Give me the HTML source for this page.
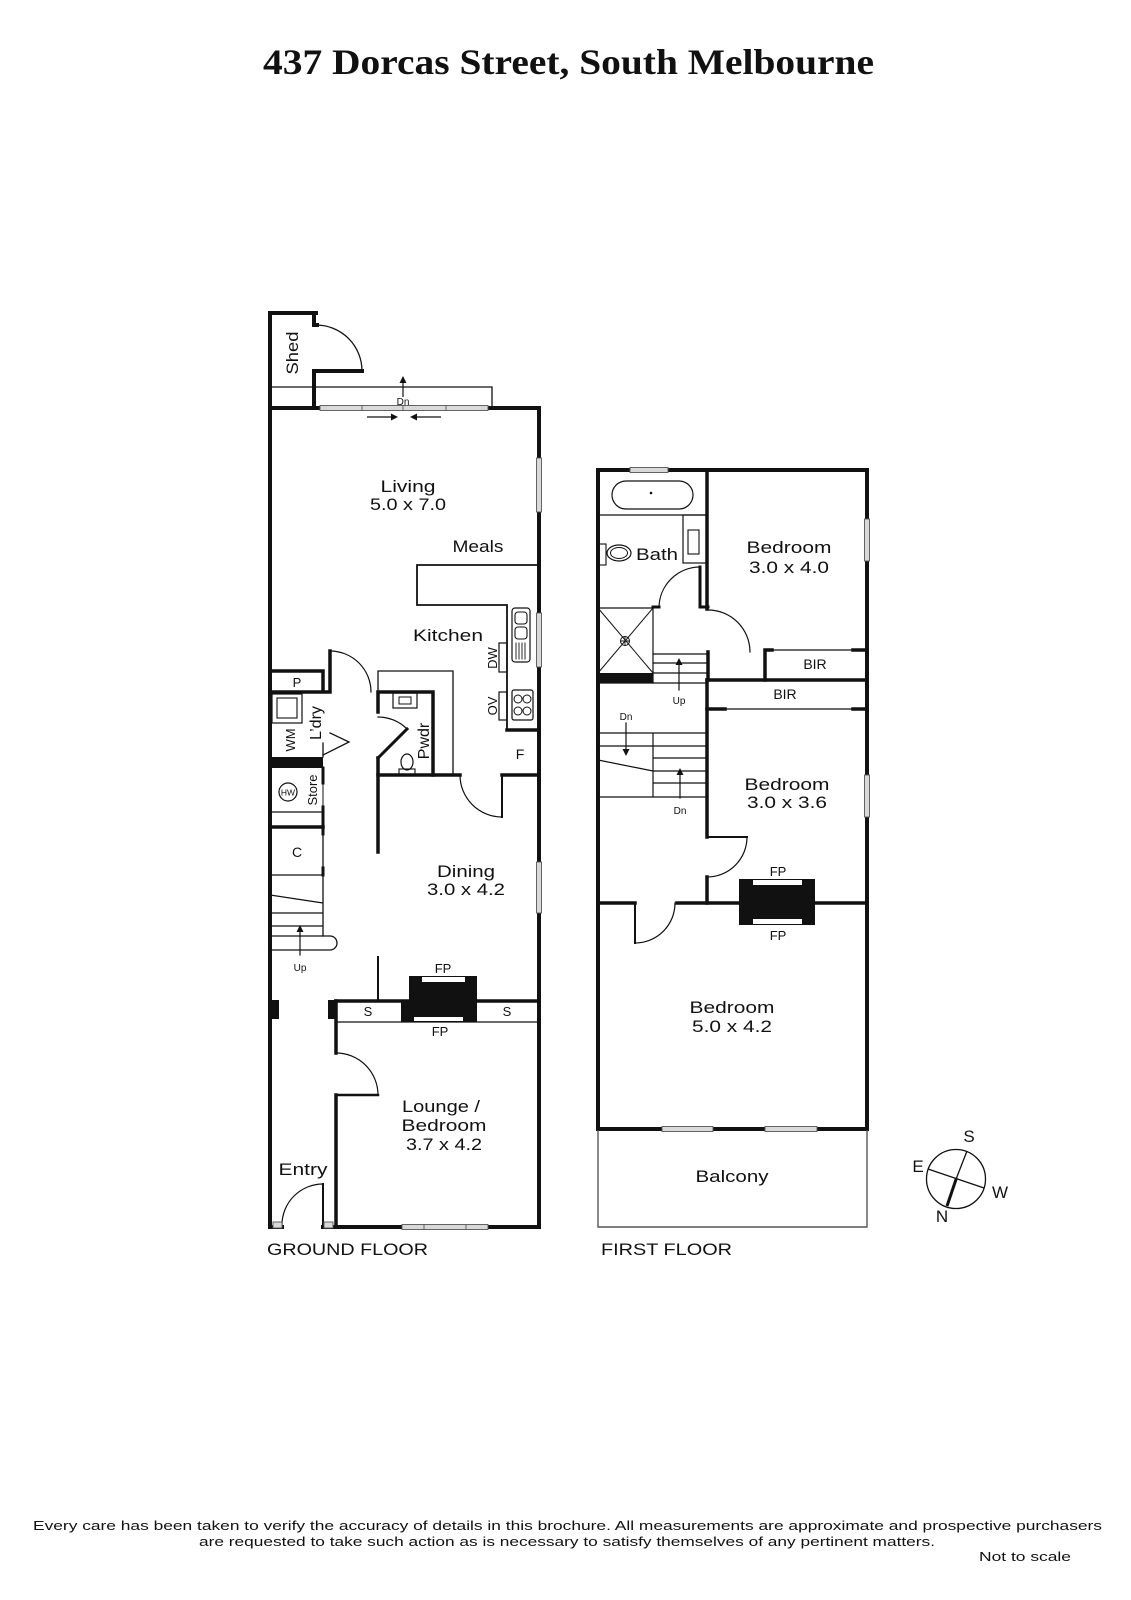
<!DOCTYPE html>
<html>
<head>
<meta charset="utf-8">
<style>
  html,body{margin:0;padding:0;background:#fff;}
  svg{display:block;}
  text{font-family:"Liberation Sans",sans-serif;fill:#111;}
  .t{font-size:17px;}
  .s{font-size:13px;}
  .xs{font-size:10px;}
</style>
</head>
<body>
<svg width="1131" height="1600" viewBox="0 0 1131 1600" xmlns="http://www.w3.org/2000/svg">
<rect width="1131" height="1600" fill="#fff"/>

<!-- Title -->
<text x="263" y="74" style="font-family:'Liberation Serif',serif;font-weight:bold;font-size:36px" textLength="611" lengthAdjust="spacingAndGlyphs">437 Dorcas Street, South Melbourne</text>

<!-- ================= GROUND FLOOR ================= -->
<g fill="none" stroke="#111" stroke-linecap="square">
  <!-- shed -->
  <path d="M270,313 H316 M314,313 V325 H317" stroke-width="4"/>
  <path d="M314,371 H362 M314,371 V408" stroke-width="4"/>
  <path d="M316,325 A46,46 0 0,1 362,371" stroke-width="1.3"/>
  <path d="M270,387 H492 V408 M314,387 V408" stroke-width="1.3"/>
  <!-- outer walls -->
  <path d="M270,313 V1227" stroke-width="4"/>
  <path d="M270,408 H539 V1227" stroke-width="4"/>
  <path d="M270,1227 H282 M323,1227 H539" stroke-width="4"/>

  <!-- meals counter / kitchen bench -->
  <path d="M539,565 H417 V605 H507 V730" stroke-width="1.8"/>
  <path d="M507,730 H539" stroke-width="3.5"/>
  <!-- sink -->
  <rect x="512" y="608" width="18" height="54" rx="3" stroke-width="1.2"/>
  <rect x="515" y="612" width="12" height="12" rx="3" stroke-width="1.1"/>
  <rect x="515" y="627" width="12" height="12" rx="3" stroke-width="1.1"/>
  <path d="M516,643 V659 M519,643 V659 M522,643 V659 M525,643 V659" stroke-width="0.9"/>
  <!-- DW / OV -->
  <rect x="499" y="643" width="8" height="29" stroke-width="1.2"/>
  <rect x="499" y="692" width="8" height="28" stroke-width="1.2"/>
  <!-- cooktop -->
  <rect x="512" y="690" width="21" height="30" rx="2" stroke-width="1.2"/>
  <circle cx="518" cy="699" r="4" stroke-width="1"/>
  <circle cx="527" cy="699" r="4" stroke-width="1"/>
  <circle cx="518" cy="711" r="4" stroke-width="1"/>
  <circle cx="527" cy="711" r="4" stroke-width="1"/>

  <!-- fridge / dining top -->
  <path d="M502,775 H539" stroke-width="3.5"/>
  <path d="M502,775 V817" stroke-width="2"/>
  <path d="M502,817 A42,42 0 0,1 460,775" stroke-width="1.2"/>
  <path d="M378,775 H460" stroke-width="3.5"/>

  <!-- powder room -->
  <path d="M378,692 V671 H453 V775" stroke-width="1.3"/>
  <path d="M378,692 H433 V775 M378,692 V712" stroke-width="3.5"/>
  <path d="M378,758 L407,729" stroke-width="3"/>
  <path d="M378,717 A41,41 0 0,1 407,729" stroke-width="1.2"/>
  <path d="M378,758 V852" stroke-width="3.5"/>
  <ellipse cx="407" cy="762" rx="6" ry="8" stroke-width="1.2"/>
  <rect x="399" y="769" width="16" height="6" stroke-width="1.1"/>
  <rect x="393" y="693" width="24" height="15" stroke-width="1.2"/>
  <rect x="399" y="697" width="12" height="7" stroke-width="1"/>

  <!-- laundry / P -->
  <path d="M270,671 H323 V692 M270,692 H330 V651" stroke-width="3.5"/>
  <path d="M330,651 A41,41 0 0,1 371,692" stroke-width="1.2"/>
  <rect x="272" y="694" width="30" height="29" stroke-width="1.2"/>
  <rect x="277" y="698" width="20" height="20" stroke-width="1.1"/>
  <path d="M330,733 L349,742 L323,755" stroke-width="1.3"/>
  <path d="M323,743 V757" stroke-width="1.3"/>
  <!-- store -->
  <circle cx="288" cy="792" r="9" stroke-width="1.2"/>
  <path d="M323,768 V783 M323,807 V827" stroke-width="3"/>
  <path d="M323,783 V807" stroke-width="1"/>
  <path d="M270,812 H323" stroke-width="1.2"/>
  <path d="M270,827 H323" stroke-width="3.5"/>
  <!-- C -->
  <path d="M323,827 V875" stroke-width="1.3"/>
  <path d="M323,827 V834 M323,868 V875" stroke-width="3"/>
  <!-- stairs -->
  <path d="M270,875 H323 M270,895 L323,903 M270,913 H323 M270,926 H323 M323,875 V936" stroke-width="1.3"/>
  <path d="M270,936 H330 A7,7 0 0,1 330,950 H270" stroke-width="1.3"/>
  <path d="M300,955 V929" stroke-width="1.2"/>

  <!-- dining wall stub -->
  <path d="M378,957 V1001" stroke-width="2"/>
  <!-- lounge top -->
  <path d="M336,1001 H539" stroke-width="3.5"/>
  <path d="M336,1022 H539" stroke-width="1.3"/>
  <path d="M336,1001 V1053" stroke-width="3.5"/>
  <path d="M336,1053 A42,42 0 0,1 378,1095" stroke-width="1.2"/>
  <path d="M336,1095 H378" stroke-width="2.5"/>
  <path d="M336,1095 V1227" stroke-width="3.5"/>
  <!-- entry door -->
  <path d="M323,1184 V1225" stroke-width="2"/>
  <path d="M282,1225 A41,41 0 0,1 323,1184" stroke-width="1.2"/>
</g>
<!-- filled items ground -->
<g fill="#111">
  <rect x="270" y="757" width="53" height="11"/>
  <rect x="270" y="1000" width="9" height="19"/>
  <rect x="328" y="1000" width="8" height="19"/>
  <path d="M409,976 H477 V1022 H401 V1001 H409 Z"/>
  <path d="M300,925 L296.5,932 H303.5 Z"/>
  <path d="M403,376 L399.5,383 H406.5 Z"/>
  <path d="M398,417 L391,413.5 V420.5 Z"/>
  <path d="M410,417 L417,413.5 V420.5 Z"/>
</g>
<g fill="#fff">
  <rect x="422" y="977" width="43" height="5"/>
  <rect x="414" y="1017" width="49" height="4"/>
</g>
<g stroke="#111" stroke-width="1.2">
  <path d="M403,397 V380"/>
  <path d="M367,417 H395 M441,417 H413"/>
</g>
<!-- windows ground -->
<g fill="#d9d9d9" stroke="#555" stroke-width="0.9">
  <rect x="320" y="405.5" width="168" height="5"/>
  <path d="M362,405.5 V410.5 M446,405.5 V410.5 M403,405.5 V410.5" fill="none"/>
  <rect x="536.5" y="458" width="5" height="54"/>
  <rect x="536.5" y="613" width="5" height="54"/>
  <rect x="536.5" y="862" width="5" height="51"/>
  <rect x="402" y="1224.5" width="86" height="5"/>
  <path d="M424,1224.5 V1229.5 M466,1224.5 V1229.5" fill="none"/>
  <rect x="273" y="1222" width="9" height="6"/>
  <rect x="324" y="1222" width="9" height="6"/>
</g>

<!-- ground labels -->
<text class="t" transform="translate(298,353) rotate(-90)" text-anchor="middle" textLength="43" lengthAdjust="spacingAndGlyphs">Shed</text>
<text class="xs" x="403" y="405" text-anchor="middle">Dn</text>
<text class="t" x="408" y="492" text-anchor="middle" textLength="55" lengthAdjust="spacingAndGlyphs">Living</text>
<text class="t" x="408" y="510" text-anchor="middle" textLength="76" lengthAdjust="spacingAndGlyphs">5.0 x 7.0</text>
<text class="t" x="478" y="552" text-anchor="middle" textLength="51" lengthAdjust="spacingAndGlyphs">Meals</text>
<text class="t" x="448" y="641" text-anchor="middle" textLength="70" lengthAdjust="spacingAndGlyphs">Kitchen</text>
<text class="s" transform="translate(497,658) rotate(-90)" text-anchor="middle">DW</text>
<text class="s" transform="translate(497,706) rotate(-90)" text-anchor="middle">OV</text>
<text class="s" x="520" y="759" text-anchor="middle" style="font-size:14px">F</text>
<text class="s" x="297" y="687" text-anchor="middle">P</text>
<text class="t" transform="translate(321,723) rotate(-90)" text-anchor="middle" style="font-size:16px">L’dry</text>
<text class="s" transform="translate(295,740) rotate(-90)" text-anchor="middle">WM</text>
<text class="t" transform="translate(429,741) rotate(-90)" text-anchor="middle" style="font-size:16px">Pwdr</text>
<text x="288" y="795.5" text-anchor="middle" style="font-size:8.5px">HW</text>
<text class="s" transform="translate(317,790) rotate(-90)" text-anchor="middle">Store</text>
<text class="s" x="297" y="857" text-anchor="middle" style="font-size:14px">C</text>
<text class="t" x="466" y="877" text-anchor="middle" textLength="58" lengthAdjust="spacingAndGlyphs">Dining</text>
<text class="t" x="466" y="895" text-anchor="middle" textLength="78" lengthAdjust="spacingAndGlyphs">3.0 x 4.2</text>
<text class="xs" x="300" y="971" text-anchor="middle">Up</text>
<text class="s" x="443" y="973" text-anchor="middle">FP</text>
<text class="s" x="440" y="1036" text-anchor="middle">FP</text>
<text class="s" x="368" y="1016" text-anchor="middle">S</text>
<text class="s" x="507" y="1016" text-anchor="middle">S</text>
<text class="t" x="441" y="1112" text-anchor="middle" textLength="78" lengthAdjust="spacingAndGlyphs">Lounge /</text>
<text class="t" x="444" y="1131" text-anchor="middle" textLength="85" lengthAdjust="spacingAndGlyphs">Bedroom</text>
<text class="t" x="444" y="1150" text-anchor="middle" textLength="76" lengthAdjust="spacingAndGlyphs">3.7 x 4.2</text>
<text class="t" x="303" y="1175" text-anchor="middle" textLength="49" lengthAdjust="spacingAndGlyphs">Entry</text>
<text class="t" x="267" y="1255" textLength="161" lengthAdjust="spacingAndGlyphs">GROUND FLOOR</text>

<!-- ================= FIRST FLOOR ================= -->
<g fill="none" stroke="#111" stroke-linecap="square">
  <path d="M598,470 H867 V1129 H598 Z" stroke-width="4"/>
  <!-- balcony -->
  <path d="M598,1131 V1227 H867 V1131" stroke="#555" stroke-width="1.4"/>
  <!-- bath/bed wall -->
  <path d="M707,470 V609" stroke-width="3.5"/>
  <path d="M708,610 A42,42 0 0,1 750,652" stroke-width="1.2"/>
  <path d="M708,652 V680" stroke-width="3.5"/>
  <!-- bath fittings -->
  <rect x="612" y="481" width="81" height="28" rx="14" stroke-width="1.2"/>
  <path d="M598,515 H707" stroke-width="1.2"/>
  <rect x="683" y="515" width="24" height="48" stroke-width="1.2"/>
  <rect x="688" y="530" width="11" height="24" stroke-width="1.1"/>
  <ellipse cx="619" cy="553" rx="12" ry="8" stroke-width="1.2"/>
  <ellipse cx="619" cy="553" rx="8.5" ry="5.5" stroke-width="1"/>
  <rect x="598" y="544" width="8" height="21" stroke-width="1.1"/>
  <!-- bath door -->
  <path d="M700,567 V607 H708 M653,607 H659" stroke-width="3"/>
  <path d="M700,567 A41,41 0 0,0 659,607" stroke-width="1.2"/>
  <!-- shower -->
  <path d="M598,608 H653 V683" stroke-width="1.2"/>
  <path d="M598,608 L653,673 M653,608 L598,673" stroke-width="1"/>
  <circle cx="625" cy="641" r="4.5" stroke-width="1"/>
  <path d="M620.5,641 H629.5 M625,636.5 V645.5" stroke-width="0.9"/>
  <!-- upper stairs -->
  <path d="M653,654 H707 M653,663 H707 M653,673 H707 M598,683 H707" stroke-width="1.2"/>
  <path d="M679,690 V662" stroke-width="1.2"/>
  <!-- BIRs -->
  <path d="M707,680 H867" stroke-width="3.5"/>
  <path d="M765,680 V650 H772 M853,650 H867" stroke-width="3.5"/>
  <path d="M772,650 H853" stroke-width="1.2"/>
  <path d="M707,709 H725 M853,709 H867" stroke-width="3.5"/>
  <path d="M725,709 H853" stroke-width="1.2"/>
  <!-- stair wall + door -->
  <path d="M707,680 V837" stroke-width="3.5"/>
  <path d="M707,837 H747" stroke-width="2"/>
  <path d="M747,837 A40,40 0 0,1 707,877" stroke-width="1.2"/>
  <path d="M707,877 V903" stroke-width="3.5"/>
  <!-- lower stairs -->
  <path d="M598,733 H707 M598,746 H707 M598,760 L653,771 M653,758 H707 M653,771 H707 M653,783 H707 M598,797 H707 M653,733 V797" stroke-width="1.2"/>
  <path d="M626,723 V752 M680,798 V772" stroke-width="1.2"/>
  <!-- divider -->
  <path d="M598,903 H635 M677,903 H739 M815,903 H867" stroke-width="3.5"/>
  <path d="M635,903 V943" stroke-width="2"/>
  <path d="M635,943 A40,40 0 0,0 675,903" stroke-width="1.2"/>
</g>
<g fill="#111">
  <rect x="598" y="673" width="55" height="10"/>
  <rect x="739" y="879" width="76" height="46"/>
  <path d="M679,658 L675.5,665 H682.5 Z"/>
  <path d="M626,756 L622.5,749 H629.5 Z"/>
  <path d="M680,768 L676.5,775 H683.5 Z"/>
  <circle cx="651" cy="493" r="1.3"/>
</g>
<g fill="#fff">
  <rect x="753" y="880" width="49" height="5"/>
  <rect x="753" y="919" width="49" height="5"/>
</g>
<!-- windows first floor -->
<g fill="#d9d9d9" stroke="#555" stroke-width="0.9">
  <rect x="630" y="467.5" width="38" height="5"/>
  <rect x="864.5" y="519" width="5" height="42"/>
  <rect x="864.5" y="775" width="5" height="42"/>
  <rect x="662" y="1126.5" width="51" height="5"/>
  <rect x="765" y="1126.5" width="52" height="5"/>
</g>

<!-- first floor labels -->
<text class="t" x="657" y="560" text-anchor="middle" textLength="42" lengthAdjust="spacingAndGlyphs">Bath</text>
<text class="t" x="789" y="553" text-anchor="middle" textLength="85" lengthAdjust="spacingAndGlyphs">Bedroom</text>
<text class="t" x="789" y="573" text-anchor="middle" textLength="80" lengthAdjust="spacingAndGlyphs">3.0 x 4.0</text>
<text class="s" x="815" y="669" text-anchor="middle" style="font-size:14px">BIR</text>
<text class="s" x="785" y="699" text-anchor="middle" style="font-size:14px">BIR</text>
<text class="xs" x="679" y="704" text-anchor="middle">Up</text>
<text class="xs" x="626" y="720" text-anchor="middle">Dn</text>
<text class="xs" x="680" y="814" text-anchor="middle">Dn</text>
<text class="t" x="787" y="790" text-anchor="middle" textLength="85" lengthAdjust="spacingAndGlyphs">Bedroom</text>
<text class="t" x="787" y="808" text-anchor="middle" textLength="80" lengthAdjust="spacingAndGlyphs">3.0 x 3.6</text>
<text class="s" x="778" y="876" text-anchor="middle">FP</text>
<text class="s" x="778" y="940" text-anchor="middle">FP</text>
<text class="t" x="732" y="1013" text-anchor="middle" textLength="85" lengthAdjust="spacingAndGlyphs">Bedroom</text>
<text class="t" x="732" y="1032" text-anchor="middle" textLength="80" lengthAdjust="spacingAndGlyphs">5.0 x 4.2</text>
<text class="t" x="732" y="1182" text-anchor="middle" textLength="73" lengthAdjust="spacingAndGlyphs">Balcony</text>
<text class="t" x="601" y="1255" textLength="131" lengthAdjust="spacingAndGlyphs">FIRST FLOOR</text>

<!-- compass -->
<g fill="none" stroke="#111">
  <circle cx="956" cy="1179" r="29.5" stroke-width="1.3"/>
  <path d="M967,1151 L956.5,1178" stroke-width="1.3"/>
  <path d="M956.5,1178 L947,1206" stroke-width="3"/>
  <path d="M928,1169 L984,1188" stroke-width="1.3"/>
</g>
<text class="t" x="969" y="1142" text-anchor="middle">S</text>
<text class="t" x="918" y="1172" text-anchor="middle">E</text>
<text class="t" x="1000" y="1198" text-anchor="middle">W</text>
<text class="t" x="942" y="1222" text-anchor="middle">N</text>

<!-- footer -->
<text x="33" y="1530" style="font-size:13px" textLength="1069" lengthAdjust="spacingAndGlyphs">Every care has been taken to verify the accuracy of details in this brochure.  All measurements are approximate and prospective purchasers</text>
<text x="199" y="1546" style="font-size:13px" textLength="736" lengthAdjust="spacingAndGlyphs">are requested to take such action as is necessary to satisfy themselves of any pertinent matters.</text>
<text x="979" y="1561" style="font-size:13px" textLength="92" lengthAdjust="spacingAndGlyphs">Not to scale</text>
</svg>
</body>
</html>
